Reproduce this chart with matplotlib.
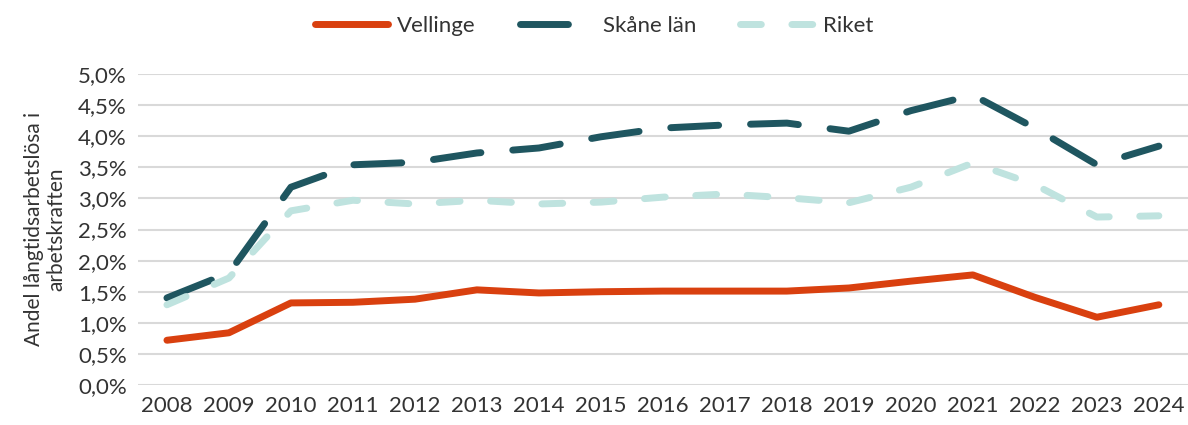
import matplotlib.pyplot as plt
from matplotlib.ticker import FuncFormatter

plt.rcParams['font.family'] = ['Lato', 'DejaVu Sans']

years = list(range(2008, 2025))
vellinge = [0.72, 0.84, 1.32, 1.33, 1.38, 1.53, 1.48, 1.50, 1.51, 1.51, 1.51, 1.56, 1.67, 1.77, 1.41, 1.09, 1.29]
skane = [1.40, 1.80, 3.18, 3.54, 3.58, 3.73, 3.81, 3.99, 4.13, 4.18, 4.21, 4.08, 4.41, 4.66, 4.13, 3.54, 3.84]
riket = [1.29, 1.72, 2.80, 2.97, 2.91, 2.97, 2.91, 2.94, 3.02, 3.07, 3.01, 2.93, 3.18, 3.57, 3.22, 2.70, 2.72]

fig = plt.figure(figsize=(11.88, 4.25), dpi=100)
ax = fig.add_axes([0.116, 0.094, 0.884, 0.732])

x = range(len(years))
ax.plot(x, vellinge, color="#D9400F", lw=5, solid_capstyle="round", label="Vellinge")
ax.plot(x, skane, color="#1F5660", lw=5, dashes=(6.9, 4.6), dash_capstyle="round", label="Skåne län")
ax.plot(x, riket, color="#BFE3DF", lw=5, dashes=(3, 4.4), dash_capstyle="round", label="Riket")

ax.set_xlim(-0.47, len(years) - 0.53)
ax.set_ylim(0, 5.0)
ax.set_yticks([i * 0.5 for i in range(11)])
ax.yaxis.set_major_formatter(FuncFormatter(lambda v, p: f"{v:.1f}".replace(".", ",") + "%"))
ax.set_xticks(list(x))
ax.set_xticklabels([str(y) for y in years])
ax.grid(axis="y", color="#D9D9D9", lw=1.5)
ax.set_axisbelow(True)
for s in ax.spines.values():
    s.set_visible(False)
ax.tick_params(length=0, labelsize=16, labelcolor="#333333", pad=8)

ax.set_ylabel("Andel långtidsarbetslösa i\narbetskraften", fontsize=15, color="#333333",
              labelpad=8)

fig.legend(loc="upper center", bbox_to_anchor=(0.5, 1.01), ncol=3, frameon=False,
           handlelength=3.3, columnspacing=2.0, handletextpad=0.4,
           prop={"size": 16}, labelcolor="#333333")

fig.savefig("out.png", dpi=100)
